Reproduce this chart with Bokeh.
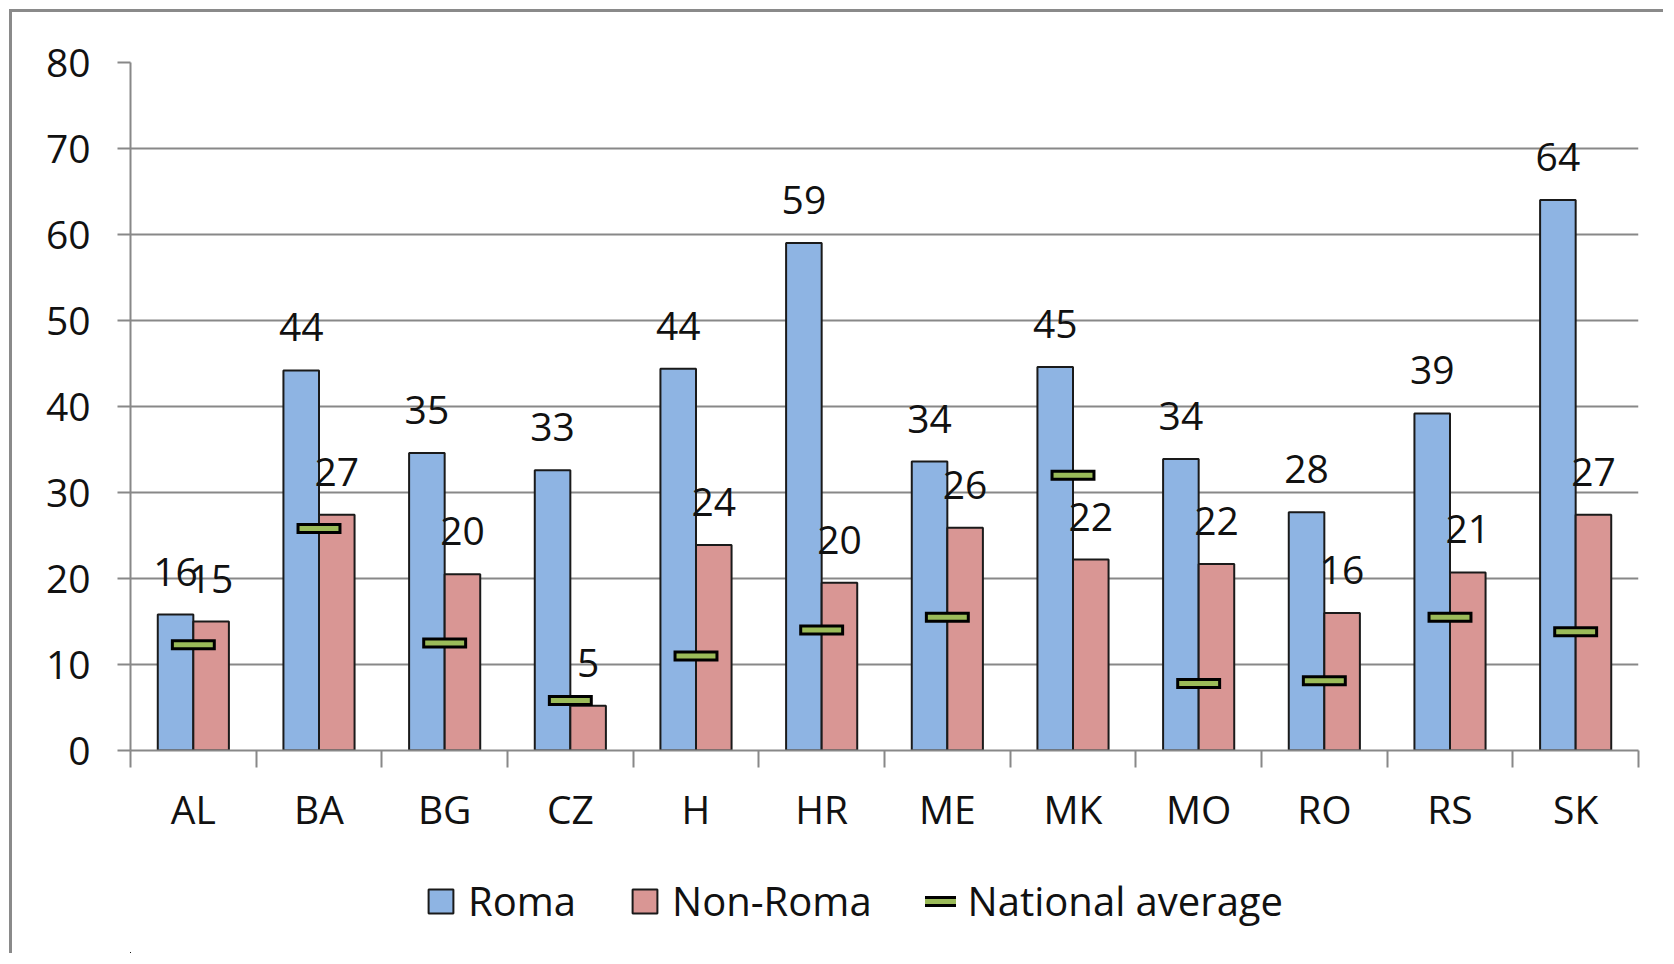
import numpy as np
from bokeh.plotting import figure
from bokeh.layouts import column
from bokeh.models import ColumnDataSource, Range1d, FixedTicker, Legend, LegendItem
from bokeh.core.properties import value
from bokeh.transform import dodge
from bokeh.embed import file_html
from bokeh.resources import INLINE

categories = ["AL", "BA", "BG", "CZ", "H", "HR", "ME", "MK", "MO", "RO", "RS", "SK"]
roma = [15.8, 44.2, 34.6, 32.6, 44.4, 59.0, 33.6, 44.6, 33.9, 27.7, 39.2, 64.0]
non_roma = [15.0, 27.4, 20.5, 5.2, 23.9, 19.5, 25.9, 22.2, 21.7, 16.0, 20.7, 27.4]
national_avg = [12.3, 25.8, 12.5, 5.8, 11.0, 14.0, 15.5, 32.0, 7.8, 8.1, 15.5, 13.8]
y_ticks = [0, 10, 20, 30, 40, 50, 60, 70, 80]

FONT = "Open Sans"
GRID = "#888888"
BORDER = "3px solid #8a8a8a"
n = len(categories)
xc = (np.arange(n) + 0.5).tolist()

src = ColumnDataSource(dict(
    x=xc, cat=categories, roma=roma, non=non_roma, avg=national_avg,
    roma_lbl=[str(int(round(v))) for v in roma],
    non_lbl=[str(int(round(v))) for v in non_roma],
))

bw = 0.283
half_dash = 0.135


def draw_marks(fig):
    rr = fig.vbar(x=dodge("x", -bw / 2), top="roma", width=bw, source=src,
                  fill_color="#8EB4E3", line_color="#1a1a1a", line_width=2)
    rn = fig.vbar(x=dodge("x", bw / 2), top="non", width=bw, source=src,
                  fill_color="#D99694", line_color="#1a1a1a", line_width=2)
    rb = fig.segment(x0=dodge("x", -half_dash), x1=dodge("x", half_dash), y0="avg", y1="avg",
                     source=src, line_color="black", line_width=11, line_cap="square")
    rg = fig.segment(x0=dodge("x", -half_dash), x1=dodge("x", half_dash), y0="avg", y1="avg",
                     source=src, line_color="#9BBB59", line_width=5, line_cap="square")
    return rr, rn, rb, rg


p = figure(width=1654, height=828, output_backend="svg", toolbar_location=None,
           x_range=Range1d(0, n), y_range=Range1d(0, 80),
           min_border_left=118, min_border_top=50, min_border_right=28, min_border_bottom=90)
p.styles = {"border-left": BORDER, "border-top": BORDER}
p.outline_line_color = None
p.background_fill_color = "white"
p.border_fill_color = "white"

draw_marks(p)

p.text(x=dodge("x", -bw / 2), y="roma", text="roma_lbl", source=src, y_offset=-43,
       text_align="center", text_baseline="middle", text_font=value(FONT),
       text_font_size="39px", text_color="#111111")
p.text(x=dodge("x", bw / 2), y="non", text="non_lbl", source=src, y_offset=-43,
       text_align="center", text_baseline="middle", text_font=value(FONT),
       text_font_size="39px", text_color="#111111")

# axes
p.xgrid.grid_line_color = None
p.ygrid.grid_line_color = GRID
p.ygrid.grid_line_width = 2
p.ygrid.ticker = FixedTicker(ticks=y_ticks)

p.yaxis.ticker = FixedTicker(ticks=y_ticks)
p.yaxis.axis_line_color = GRID
p.yaxis.axis_line_width = 2
p.yaxis.major_tick_line_color = GRID
p.yaxis.major_tick_line_width = 2
p.yaxis.major_tick_out = 13
p.yaxis.major_tick_in = 0
p.yaxis.minor_tick_line_color = None
p.yaxis.major_label_standoff = 27
p.yaxis.major_label_text_font = FONT
p.yaxis.major_label_text_font_size = "39px"
p.yaxis.major_label_text_color = "#111111"

p.xaxis.ticker = FixedTicker(ticks=xc, minor_ticks=list(range(n + 1)))
p.xaxis.major_label_overrides = {x: c for x, c in zip(xc, categories)}
p.xaxis.axis_line_color = GRID
p.xaxis.axis_line_width = 2
p.xaxis.major_tick_line_color = None
p.xaxis.major_tick_out = 0
p.xaxis.major_tick_in = 0
p.xaxis.minor_tick_line_color = GRID
p.xaxis.minor_tick_line_width = 2
p.xaxis.minor_tick_out = 17
p.xaxis.minor_tick_in = 0
p.xaxis.major_label_standoff = 14
p.xaxis.major_label_text_font = FONT
p.xaxis.major_label_text_font_size = "39px"
p.xaxis.major_label_text_color = "#111111"

# legend strip (same series, drawn out of view so only the legend shows)
pl = figure(width=1654, height=116, output_backend="svg", toolbar_location=None,
            x_range=Range1d(1000, 1001), y_range=Range1d(1000, 1001),
            x_axis_type=None, y_axis_type=None, min_border=0)
pl.styles = {"border-left": BORDER}
pl.outline_line_color = None
pl.grid.grid_line_color = None
lr, ln, lb, lg = draw_marks(pl)

legend = Legend(items=[
    LegendItem(label="Roma", renderers=[lr]),
    LegendItem(label="Non-Roma", renderers=[ln]),
    LegendItem(label="National average", renderers=[lb, lg]),
], orientation="horizontal", location=(295, 25),
    glyph_width=31, glyph_height=30, label_standoff=12, spacing=53,
    padding=0, margin=0, border_line_color=None, background_fill_alpha=0,
    label_text_font=FONT, label_text_font_size="40px", label_text_color="#111111")
pl.add_layout(legend, "center")

layout = column(p, pl, spacing=0, margin=(9, 0, 0, 9))
open("out.html", "w").write(file_html(layout, INLINE))
